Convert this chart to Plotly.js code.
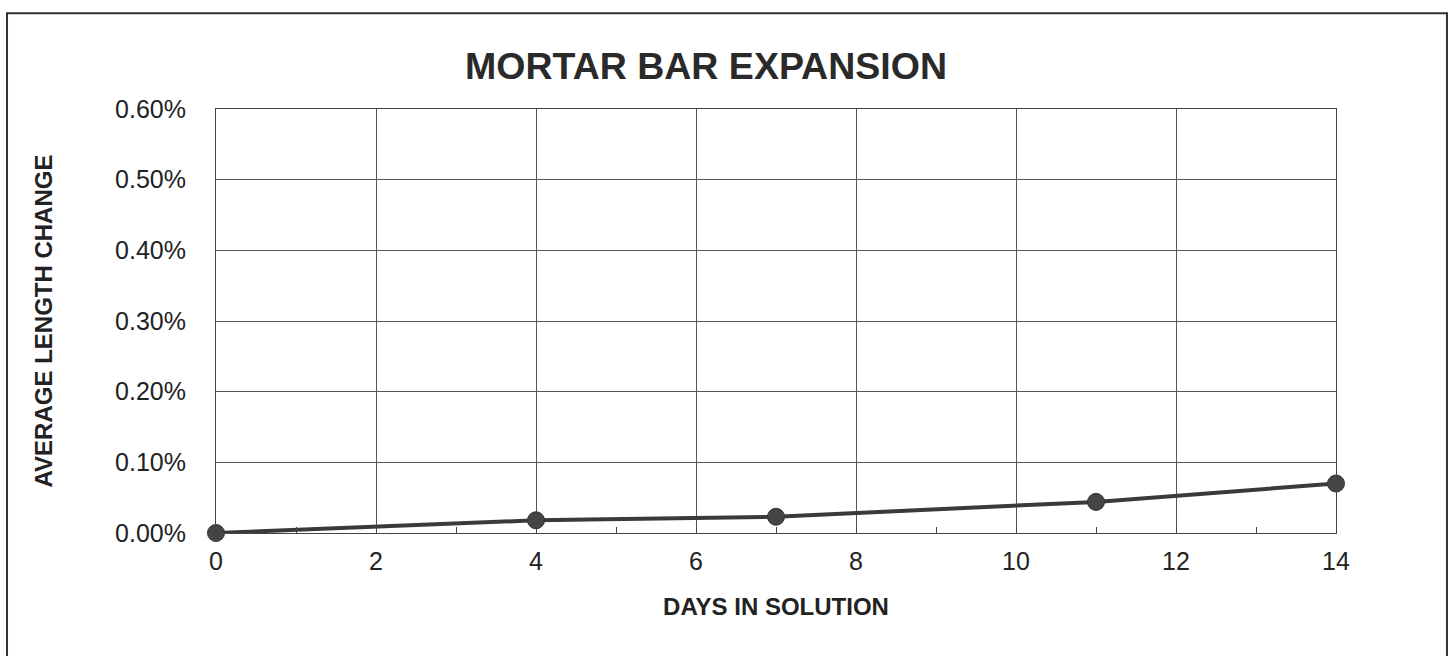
<!DOCTYPE html>
<html>
<head>
<meta charset="utf-8">
<script src="https://cdn.plot.ly/plotly-3.0.1.min.js"></script>
<style>html,body{margin:0;padding:0;background:#fff;}#chart{width:1452px;height:656px;}</style>
</head>
<body>
<div id="chart"></div>
<script>
const days = [0, 4, 7, 11, 14];
const expansion = [0.0, 0.00018, 0.00023, 0.00044, 0.00070];
const yTickVals = [0, 0.001, 0.002, 0.003, 0.004, 0.005, 0.006];
const xTickVals = [0, 2, 4, 6, 8, 10, 12, 14];

const trace = {
  x: days, y: expansion, type: 'scatter', mode: 'lines+markers',
  line: {color: '#3a3a3a', width: 4},
  marker: {color: '#454545', size: 17, line: {color: '#333', width: 1}},
  hoverinfo: 'skip', cliponaxis: false
};

const layout = {
  width: 1452, height: 656,
  margin: {l: 216, r: 116, t: 109, b: 123},
  paper_bgcolor: '#fff', plot_bgcolor: '#fff',
  font: {family: 'Liberation Sans, Arial, sans-serif', color: '#222'},
  showlegend: false,
  title: {text: '<b>MORTAR BAR EXPANSION</b>', font: {size: 37.5, color: '#2a2a2a'},
          xref: 'paper', x: 0.4375, xanchor: 'center', yref: 'container', y: 0.9, yanchor: 'middle'},
  xaxis: {
    range: [0, 14], tickvals: xTickVals, ticktext: xTickVals.map(String),
    showgrid: true, gridcolor: '#555', gridwidth: 1,
    showline: true, linecolor: '#444', linewidth: 1, mirror: true,
    ticks: '', ticklabelstandoff: 6, zeroline: false,
    tickfont: {size: 25, color: '#222'},
    minor: {dtick: 1, tick0: 1, ticks: 'inside', ticklen: 6, tickcolor: '#444', showgrid: false},
    title: {text: '<b>DAYS IN SOLUTION</b>', font: {size: 24, color: '#222'}, standoff: 24}
  },
  yaxis: {
    range: [0, 0.006], tickvals: yTickVals, tickformat: '.2%',
    showgrid: true, gridcolor: '#555', gridwidth: 1,
    showline: true, linecolor: '#444', linewidth: 1, mirror: true,
    ticks: '', ticklabelstandoff: 24, zeroline: false,
    tickfont: {size: 25, color: '#222'},
    title: {text: '<b>AVERAGE LENGTH CHANGE</b>', font: {size: 24, color: '#222'}, standoff: 55}
  },
  shapes: [{
    type: 'rect', xref: 'paper', yref: 'paper',
    x0: -0.1866, x1: 1.0991, y0: -0.3, y1: 1.2259,
    line: {color: '#333', width: 2}, fillcolor: 'rgba(0,0,0,0)', layer: 'below'
  }]
};

Plotly.newPlot('chart', [trace], layout, {staticPlot: true, displayModeBar: false});
</script>
</body>
</html>
